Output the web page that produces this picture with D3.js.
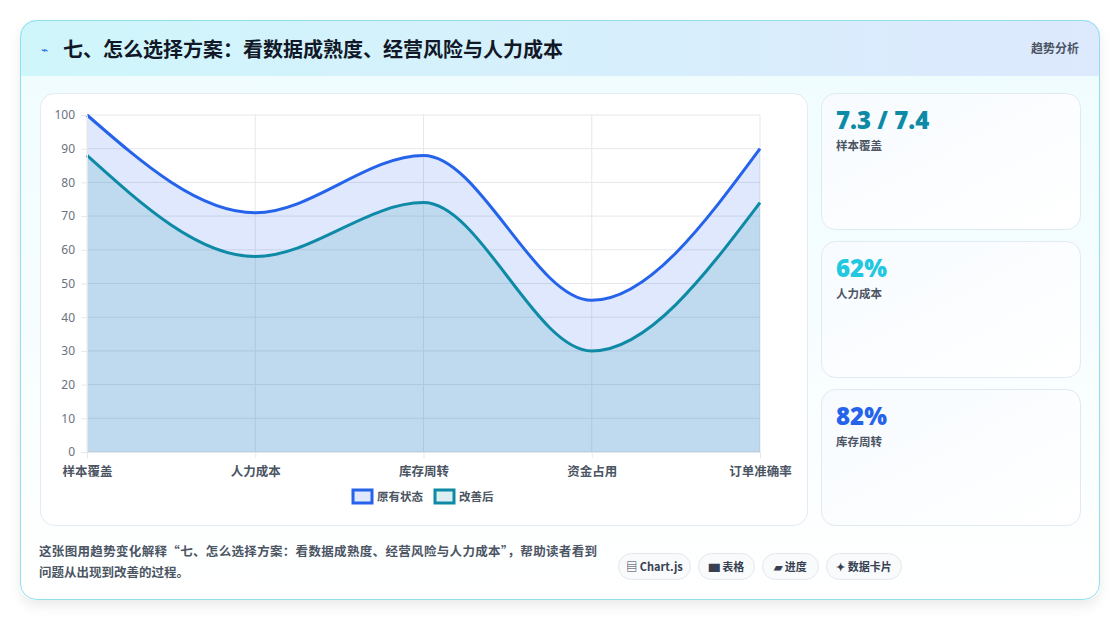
<!DOCTYPE html>
<html><head><meta charset="utf-8">
<script src="https://cdn.jsdelivr.net/npm/d3@7"></script>
<style>
body{margin:0;width:1120px;height:620px;background:#fff;font-family:"Noto Sans CJK SC","Noto Sans",sans-serif;overflow:hidden}
</style></head><body>
<svg id="c" width="1120" height="620"></svg>
<script>
const categories=["样本覆盖","人力成本","库存周转","资金占用","订单准确率"];
const original=[100,71,88,45,90];
const improved=[88,58,74,30,74];
const seriesNames=["原有状态","改善后"];
const yTicks=[0,10,20,30,40,50,60,70,80,90,100];
const cardValues=["7.3 / 7.4","62%","82%"];
const cardLabels=["样本覆盖","人力成本","库存周转"];
const cardColors=["#0e8aa6","#22c7e0","#2563eb"];
const pills=["▤ Chart.js","▆ 表格","▰ 进度","✦ 数据卡片"];

const svg=d3.select("#c");
const defs=svg.append("defs");
const f=defs.append("filter").attr("id","sh").attr("x","-5%").attr("y","-5%").attr("width","110%").attr("height","115%");
f.append("feDropShadow").attr("dx",0).attr("dy",6).attr("stdDeviation",6).attr("flood-color","#000").attr("flood-opacity",0.08);
const hg=defs.append("linearGradient").attr("id","hg");
hg.append("stop").attr("offset","0").attr("stop-color","#cff6fb");
hg.append("stop").attr("offset","1").attr("stop-color","#dde9fd");
const bg=defs.append("linearGradient").attr("id","bg").attr("x1",0).attr("y1",0).attr("x2",0).attr("y2",1);
bg.append("stop").attr("offset","0").attr("stop-color","#eefcfe");
bg.append("stop").attr("offset","1").attr("stop-color","#ffffff");
const cg=defs.append("linearGradient").attr("id","cg").attr("x1",0).attr("y1",0).attr("x2",1).attr("y2",1);
cg.append("stop").attr("offset","0").attr("stop-color","#f7fbff");
cg.append("stop").attr("offset","1").attr("stop-color","#ffffff");
const cp=defs.append("clipPath").attr("id","cp");
cp.append("rect").attr("x",20).attr("y",20).attr("width",1080).attr("height",580).attr("rx",16);

svg.append("rect").attr("x",20).attr("y",20).attr("width",1080).attr("height",580).attr("rx",16).attr("fill","url(#bg)").attr("filter","url(#sh)");
const g0=svg.append("g").attr("clip-path","url(#cp)");
g0.append("rect").attr("x",20).attr("y",20).attr("width",1080).attr("height",56).attr("fill","url(#hg)");
svg.append("rect").attr("x",20.5).attr("y",20.5).attr("width",1079).attr("height",579).attr("rx",16).attr("fill","none").attr("stroke","#8fe0ec");
svg.append("text").attr("x",41).attr("y",54).attr("font-size",12).attr("fill","#2563eb").text("⌁");
svg.append("text").attr("x",63).attr("y",57).attr("font-size",20).attr("font-weight",700).attr("fill","#111827").text("七、怎么选择方案：看数据成熟度、经营风险与人力成本");
svg.append("text").attr("x",1079).attr("y",53).attr("text-anchor","end").attr("font-size",12).attr("font-weight",600).attr("fill","#4b5563").text("趋势分析");

svg.append("rect").attr("x",40.5).attr("y",93.5).attr("width",767).attr("height",432).attr("rx",14).attr("fill","#fff").attr("stroke","#e3ebf3");

const x=d3.scalePoint().domain(categories).range([87,760]);
const y=d3.scaleLinear().domain([0,100]).range([452,115]);
const g=svg.append("g");
g.selectAll(".gy").data(yTicks).join("line").attr("x1",87).attr("x2",760).attr("y1",d=>y(d)).attr("y2",d=>y(d)).attr("stroke","#e5e7eb");
g.selectAll(".gx").data(categories).join("line").attr("x1",d=>x(d)).attr("x2",d=>x(d)).attr("y1",115).attr("y2",452).attr("stroke","#e5e7eb");
const curve=d3.curveMonotoneX;
const area=d3.area().x((d,i)=>x(categories[i])).y0(y(0)).y1(d=>y(d)).curve(curve);
const line=d3.line().x((d,i)=>x(categories[i])).y(d=>y(d)).curve(curve);
g.append("path").attr("d",area(original)).attr("fill","rgba(37,99,235,0.15)");
g.append("path").attr("d",area(improved)).attr("fill","rgba(14,138,166,0.15)");
g.append("path").attr("d",line(original)).attr("fill","none").attr("stroke","#2563eb").attr("stroke-width",3);
g.append("path").attr("d",line(improved)).attr("fill","none").attr("stroke","#0e8aa6").attr("stroke-width",3);
const ya=svg.append("g").attr("transform","translate(87,0)").call(d3.axisLeft(y).tickValues(yTicks).tickSize(6).tickPadding(6));
ya.select(".domain").attr("stroke","#e5e7eb");
ya.selectAll("line").attr("stroke","#e5e7eb");
ya.selectAll("text").attr("font-size",12).attr("fill","#6b7280").attr("font-family","Noto Sans");
const xa=svg.append("g").attr("transform","translate(0,452)").call(d3.axisBottom(x).tickSize(6).tickPadding(5));
xa.select(".domain").attr("stroke","#e5e7eb");
xa.selectAll("line").attr("stroke","#e5e7eb");
xa.selectAll("text").attr("font-size",12.5).attr("fill","#4b5563").attr("font-weight",600).attr("font-family","Noto Sans CJK SC").attr("dy","1em");

const leg=[{n:seriesNames[0],c:"#2563eb",f:"rgba(37,99,235,0.15)",x:352},{n:seriesNames[1],c:"#0e8aa6",f:"rgba(14,138,166,0.15)",x:434}];
leg.forEach(l=>{
 svg.append("rect").attr("x",l.x+1).attr("y",490).attr("width",19).attr("height",13).attr("fill",l.f).attr("stroke",l.c).attr("stroke-width",3);
 svg.append("text").attr("x",l.x+25).attr("y",501).attr("font-size",11.5).attr("font-weight",600).attr("fill","#4b5563").text(l.n);
});

cardValues.forEach((v,i)=>{
 const top=93+i*148;
 svg.append("rect").attr("x",821.5).attr("y",top+0.5).attr("width",259).attr("height",136).attr("rx",14).attr("fill","url(#cg)").attr("stroke","#e0eaf3");
 svg.append("text").attr("x",836).attr("y",top+36).attr("font-size",24).attr("font-weight",800).attr("fill",cardColors[i]).attr("font-family","Open Sans, Noto Sans").text(v);
 svg.append("text").attr("x",836).attr("y",top+57).attr("font-size",11.5).attr("font-weight",600).attr("fill","#4b5563").text(cardLabels[i]);
});

svg.append("text").attr("x",39).attr("y",556).attr("font-size",12.5).attr("font-weight",600).attr("fill","#4b5563").attr("textLength",558).text("这张图用趋势变化解释“七、怎么选择方案：看数据成熟度、经营风险与人力成本”，帮助读者看到");
svg.append("text").attr("x",39).attr("y",577).attr("font-size",12.5).attr("font-weight",600).attr("fill","#4b5563").text("问题从出现到改善的过程。");
const pw=[72,56,56,75];let px=618;
pills.forEach((p,i)=>{
 svg.append("rect").attr("x",px+0.5).attr("y",553.5).attr("width",pw[i]).attr("height",26).attr("rx",13).attr("fill","#f8fafc").attr("stroke","#e5e7eb");
 svg.append("text").attr("x",px+pw[i]/2+0.5).attr("y",571).attr("text-anchor","middle").attr("font-size",11).attr("font-weight",700).attr("fill","#374151").text(p);
 px+=pw[i]+8;
});
</script></body></html>
